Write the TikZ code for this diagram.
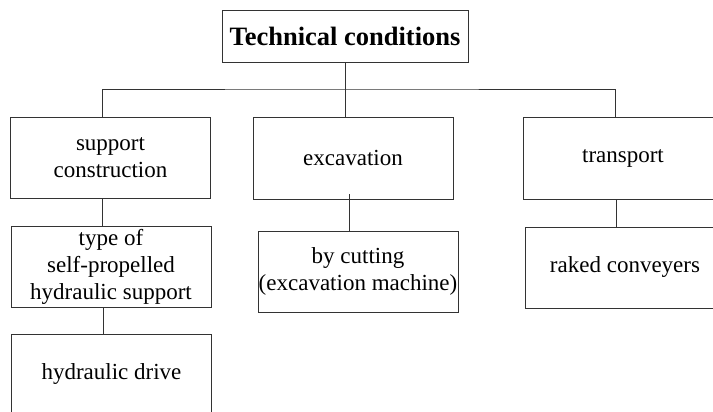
\documentclass[tikz,border=0pt]{standalone}
\usepackage{fontspec}
\setmainfont{Liberation Serif}
\usepackage{tikz}
\usetikzlibrary{positioning,calc}

\begin{document}
\begin{tikzpicture}[x=1pt,y=-1pt,
						every node/.style = {draw=black!80,line width=0.8pt,align=center,inner sep=0pt,
							font=\fontsize{23}{27}\selectfont},
						cond/.style = {minimum width=200pt,minimum height=81pt},
						link/.style = {draw=black!80,line width=0.8pt}]

					\path[use as bounding box,clip] (0,0) rectangle (713,412);

					\node[minimum width=246pt,minimum height=52pt,font=\fontsize{26.5}{30}\selectfont\bfseries] (top) at (345,36) {Technical conditions};

					\node[cond] (sup) at (110.5,157.5) {support\\construction};
					\node[cond,minimum height=82pt] (exc) at (353,158) {excavation};
					\node[cond,minimum height=82pt] (tra) at (623,158) {transport};

					\node[cond] (typ) at (111,266.5) {type of\\self-propelled\\hydraulic support};
					\node[cond] (cut) at (358,271.5) {by cutting\\(excavation machine)};
					\node[cond] (rak) at (625,267.5) {raked conveyers};
					\node[cond] (hyd) at (111.5,374.5) {hydraulic drive};

					\draw[link] (top.south) -- (top.south |- exc.north);
					\draw[link] ([xshift=-8.5pt]sup.north) |- (345,89) -| ([xshift=-8pt]tra.north);

					\draw[link] ([xshift=-8pt]sup.south) -- ([xshift=-8pt]sup.south |- typ.north);
					\draw[link] ([xshift=-8pt]typ.south) -- ([xshift=-8pt]typ.south |- hyd.north);
					\draw[link] ([xshift=-4pt,yshift=5pt]exc.south) -- ([xshift=-4pt]exc.south |- cut.north);
					\draw[link] ([xshift=-7pt]tra.south) -- ([xshift=-7pt]tra.south |- rak.north);

				\end{tikzpicture}
\end{document}
